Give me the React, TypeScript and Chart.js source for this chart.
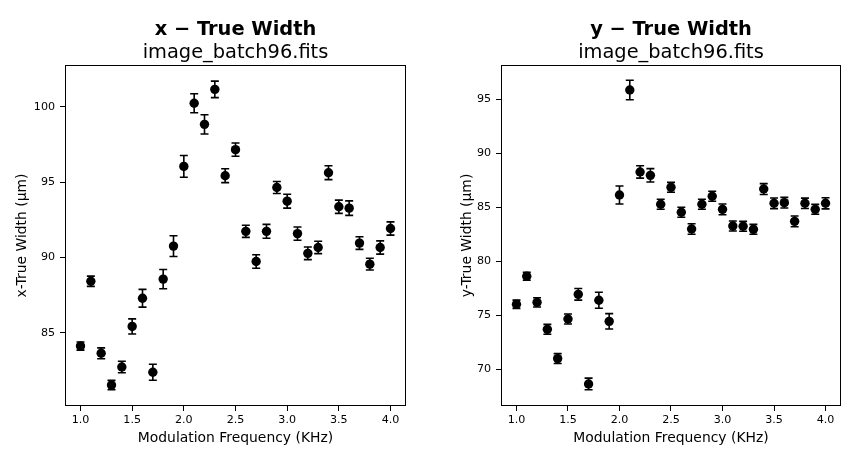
import React, { useEffect, useRef } from "react";
import { Chart, registerables } from "chart.js";

Chart.register(...registerables);

// ---------- data ----------
const frequencies = [
  1.0, 1.1, 1.2, 1.3, 1.4, 1.5, 1.6, 1.7, 1.8, 1.9, 2.0, 2.1, 2.2, 2.3, 2.4, 2.5,
  2.6, 2.7, 2.8, 2.9, 3.0, 3.1, 3.2, 3.3, 3.4, 3.5, 3.6, 3.7, 3.8, 3.9, 4.0,
];

const xTrueWidth = [
  84.12, 88.42, 83.64, 81.53, 82.73, 85.42, 87.29, 82.38, 88.56, 90.75, 96.04,
  100.23, 98.83, 101.15, 95.42, 97.15, 91.73, 89.73, 91.73, 94.64, 93.73, 91.58,
  90.27, 90.66, 95.62, 93.36, 93.27, 90.95, 89.55, 90.66, 91.92,
];
const xTrueWidthErr = [
  0.27, 0.34, 0.36, 0.31, 0.38, 0.5, 0.59, 0.53, 0.64, 0.69, 0.72, 0.63, 0.64,
  0.55, 0.46, 0.44, 0.4, 0.45, 0.46, 0.4, 0.46, 0.44, 0.42, 0.41, 0.46, 0.44,
  0.48, 0.42, 0.39, 0.44, 0.44,
];

const yTrueWidth = [
  76.02, 78.61, 76.2, 73.7, 70.99, 74.66, 76.94, 68.64, 76.39, 74.44, 86.14,
  95.86, 88.27, 87.96, 85.28, 86.85, 84.54, 82.99, 85.28, 86.02, 84.81, 83.27,
  83.24, 82.96, 86.69, 85.37, 85.43, 83.7, 85.37, 84.81, 85.37,
];
const yTrueWidthErr = [
  0.38, 0.36, 0.43, 0.46, 0.46, 0.46, 0.54, 0.54, 0.74, 0.71, 0.83, 0.9, 0.57,
  0.62, 0.46, 0.46, 0.46, 0.49, 0.46, 0.46, 0.5, 0.46, 0.46, 0.46, 0.5, 0.49,
  0.49, 0.5, 0.48, 0.46, 0.52,
];

const xTickValues = [1.0, 1.5, 2.0, 2.5, 3.0, 3.5, 4.0];
const leftYTicks = [85, 90, 95, 100];
const rightYTicks = [70, 75, 80, 85, 90, 95];

const subtitleText = "image_batch96.fits";
const xAxisLabel = "Modulation Frequency (KHz)";

// ---------- plugins ----------
const errorBarPlugin = {
  id: "errorBars",
  beforeDatasetsDraw(chart: any) {
    const ctx = chart.ctx;
    const xs = chart.scales.x;
    const ys = chart.scales.y;
    chart.data.datasets.forEach((ds: any) => {
      const errs: number[] = ds.errors || [];
      ctx.save();
      ctx.strokeStyle = "#000";
      ctx.lineWidth = 1.6;
      ds.data.forEach((p: any, i: number) => {
        const e = errs[i] || 0;
        const px = xs.getPixelForValue(p.x);
        const top = ys.getPixelForValue(p.y + e);
        const bot = ys.getPixelForValue(p.y - e);
        const cap = 4;
        ctx.beginPath();
        ctx.moveTo(px, top);
        ctx.lineTo(px, bot);
        ctx.moveTo(px - cap, top);
        ctx.lineTo(px + cap, top);
        ctx.moveTo(px - cap, bot);
        ctx.lineTo(px + cap, bot);
        ctx.stroke();
      });
      ctx.restore();
    });
  },
};

const framePlugin = {
  id: "frame",
  afterDraw(chart: any) {
    const { left, top, right, bottom } = chart.chartArea;
    const ctx = chart.ctx;
    ctx.save();
    ctx.strokeStyle = "#000";
    ctx.lineWidth = 1;
    const l = Math.round(left) + 0.5;
    const t = Math.round(top) + 0.5;
    const r = Math.round(right) - 0.5;
    const b = Math.round(bottom) - 0.5;
    ctx.strokeRect(l, t, r - l, b - t);
    ctx.restore();
  },
};

const FONT = "'DejaVu Sans', sans-serif";

interface PanelSpec {
  title: string;
  yLabel: string;
  values: number[];
  errors: number[];
  yMin: number;
  yMax: number;
  yTicks: number[];
  yAxisWidth: number;
  padRight: number;
}

function makeConfig(spec: PanelSpec): any {
  const tickGrid = {
    display: true,
    drawOnChartArea: false,
    drawTicks: true,
    tickLength: 5,
    color: "#000",
    tickColor: "#000",
    tickWidth: 1,
  };
  return {
    type: "scatter",
    data: {
      datasets: [
        {
          data: frequencies.map((f, i) => ({ x: f, y: spec.values[i] })),
          errors: spec.errors,
          backgroundColor: "#000",
          borderColor: "#000",
          pointRadius: 4.7,
          pointHoverRadius: 4.7,
          pointBorderWidth: 0,
          showLine: false,
        },
      ],
    },
    options: {
      responsive: false,
      animation: false,
      events: [],
      layout: { padding: { left: 0, right: spec.padRight, top: 0, bottom: 0 } },
      plugins: {
        legend: { display: false },
        tooltip: { enabled: false },
        title: {
          display: true,
          text: spec.title,
          fullSize: false,
          color: "#000",
          font: { family: FONT, size: 19.4, weight: "bold", lineHeight: 1.2 },
          padding: { top: 18.4, bottom: 0 },
        },
        subtitle: {
          display: true,
          text: subtitleText,
          fullSize: false,
          color: "#000",
          font: { family: FONT, size: 19.4, weight: "normal", lineHeight: 1.2 },
          padding: { top: 0, bottom: 0 },
        },
      },
      scales: {
        x: {
          type: "linear",
          min: 0.85,
          max: 4.15,
          afterBuildTicks: (s: any) => {
            s.ticks = xTickValues.map((v) => ({ value: v }));
          },
          afterFit: (s: any) => {
            s.height = 57;
          },
          ticks: {
            color: "#000",
            font: { family: FONT, size: 11.1 },
            padding: 2,
            maxRotation: 0,
            autoSkip: false,
            callback: (v: any) => Number(v).toFixed(1),
          },
          grid: tickGrid,
          border: { display: false },
          title: {
            display: true,
            text: xAxisLabel,
            color: "#000",
            font: { family: FONT, size: 13.9, lineHeight: 1.2 },
            padding: { top: 0, bottom: 16.6 },
          },
        },
        y: {
          type: "linear",
          min: spec.yMin,
          max: spec.yMax,
          afterBuildTicks: (s: any) => {
            s.ticks = spec.yTicks.map((v) => ({ value: v }));
          },
          afterFit: (s: any) => {
            s.width = spec.yAxisWidth;
          },
          ticks: {
            color: "#000",
            font: { family: FONT, size: 11.1 },
            padding: 5,
            autoSkip: false,
            callback: (v: any) => String(v),
          },
          grid: tickGrid,
          border: { display: false },
          title: {
            display: true,
            text: spec.yLabel,
            color: "#000",
            font: { family: FONT, size: 13.9, lineHeight: 1.2 },
            padding: { top: 14, bottom: 0 },
          },
        },
      },
    },
    plugins: [errorBarPlugin, framePlugin],
  };
}

function Panel(props: { spec: PanelSpec; left: number; width: number }) {
  const ref = useRef<HTMLCanvasElement | null>(null);
  useEffect(() => {
    if (!ref.current) return;
    const chart = new Chart(ref.current, makeConfig(props.spec));
    return () => chart.destroy();
  }, []);
  return (
    <div
      style={{
        position: "absolute",
        left: props.left,
        top: 0,
        width: props.width,
        height: 463,
      }}
    >
      <canvas
        ref={ref}
        width={props.width}
        height={463}
        style={{ width: props.width, height: 463, display: "block" }}
      />
    </div>
  );
}

const leftSpec: PanelSpec = {
  title: "x \u2212 True Width",
  yLabel: "x-True Width (\u03bcm)",
  values: xTrueWidth,
  errors: xTrueWidthErr,
  yMin: 80.14,
  yMax: 102.77,
  yTicks: leftYTicks,
  yAxisWidth: 65,
  padRight: 19,
};

const rightSpec: PanelSpec = {
  title: "y \u2212 True Width",
  yLabel: "y-True Width (\u03bcm)",
  values: yTrueWidth,
  errors: yTrueWidthErr,
  yMin: 66.6,
  yMax: 98.18,
  yTicks: rightYTicks,
  yAxisWidth: 56,
  padRight: 9,
};

export default function App() {
  return (
    <div
      style={{
        position: "absolute",
        left: 0,
        top: 0,
        width: 850,
        height: 463,
        background: "#fff",
        overflow: "hidden",
      }}
    >
      <Panel spec={leftSpec} left={0} width={425} />
      <Panel spec={rightSpec} left={445} width={405} />
    </div>
  );
}
